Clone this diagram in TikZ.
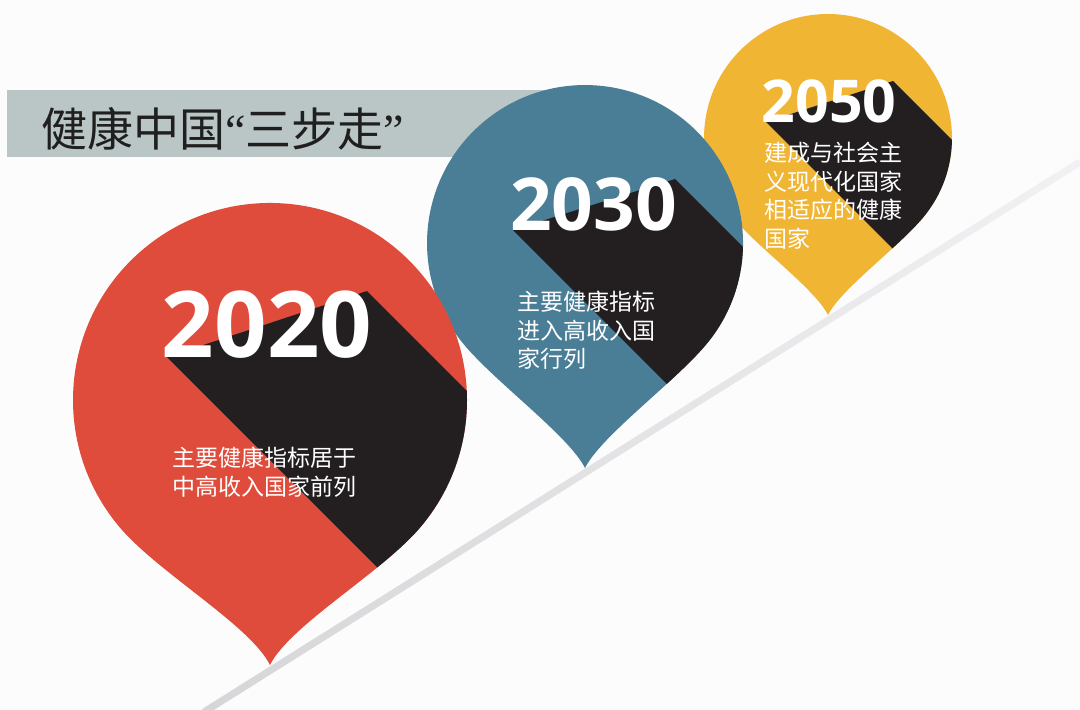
\documentclass[tikz,border=0pt]{standalone}
\usepackage{fontspec}
\setmainfont{Open Sans}
\newfontfamily\cjk{Noto Sans CJK SC}
\newfontfamily\yearfont{Open Sans}
\newfontfamily\quotefont{Liberation Serif}
\definecolor{PinRed}{HTML}{E04C3B}
\definecolor{PinBlue}{HTML}{4A7D96}
\definecolor{PinYellow}{HTML}{F1B534}
\definecolor{Shadow}{HTML}{231F20}
\definecolor{Banner}{HTML}{BAC5C5}
\definecolor{Track}{HTML}{D6D6D9}
\definecolor{Paper}{HTML}{FDFCFD}
\definecolor{Ink}{HTML}{1F1F1F}

\begin{document}
\begin{tikzpicture}[
  x=1pt,y=-1pt,
  year/.style={text=white,inner sep=0,anchor=base},
  band/.style={fill=Shadow},
  note/.style={text=white,inner sep=0,anchor=north west,align=left,font=\cjk\fontsize{23}{28.5}\selectfont},
  title/.style={text=Ink,inner sep=0,anchor=base west,font=\cjk\fontsize{46}{46}\selectfont}
]
\useasboundingbox (0,0) rectangle (1080,710);
\fill[Paper] (0,0) rectangle (1080,710);

% track under the pins
\coordinate (trackA) at (204,712);
\coordinate (trackB) at (1080,162);
\shade[left color=Track,right color=Track!30!Paper]
  (202.1,709) -- (1078.1,159) -- (1081.9,165) -- (205.9,715) -- cycle;

% banner
\fill[Banner] (7,90) rectangle (580,157);
\node[title] (heading) at (41,146) {健康中国{\quotefont “}三步走{\quotefont ”}};

% 2050
\begin{scope}
  \clip (828,315) .. controls (815,289) and (758.7,248.3) .. (733,217.7)
    arc[start angle=140,end angle=400,radius=124]
    .. controls (897.3,248.3) and (841,289) .. (828,315) -- cycle;
  \fill[PinYellow] (690,0) rectangle (970,330);
  \fill[band] (893,81) -- (1093,281) -- (966,322) -- (766,122) -- cycle;
\end{scope}
\node[year,font=\yearfont\bfseries\fontsize{59}{59}\selectfont] (y2050) at (829,122) {2050};
\node[note] (n2050) at (764,142) {建成与社会主\\义现代化国家\\相适应的健康\\国家};

% 2030
\begin{scope}
  \clip (585,468) .. controls (569,436) and (496.1,382.9) .. (464,344.6)
    arc[start angle=140,end angle=400,radius=158]
    .. controls (673.9,382.9) and (601,436) .. (585,468) -- cycle;
  \fill[PinBlue] (410,70) rectangle (760,480);
  \fill[band] (675,179) -- (925,429) -- (763,480) -- (513,230) -- cycle;
\end{scope}
\node[year,font=\yearfont\bfseries\fontsize{73}{73}\selectfont] (y2030) at (593.5,230) {2030};
\node[note] (n2030) at (517,291) {主要健康指标\\进入高收入国\\家行列};

% 2020
\begin{scope}
  \clip (270,665) .. controls (250,625) and (157.7,572.6) .. (119.1,526.6)
    arc[start angle=140,end angle=400,radius=197]
    .. controls (382.3,572.6) and (290,625) .. (270,665) -- cycle;
  \fill[PinRed] (60,190) rectangle (480,680);
  \fill[band] (367,291) -- (667,591) -- (467,657) -- (167,357) -- cycle;
\end{scope}
\node[year,font=\yearfont\bfseries\fontsize{92}{92}\selectfont] (y2020) at (267,357) {2020};
\node[note] (n2020) at (172,447) {主要健康指标居于\\中高收入国家前列};
\end{tikzpicture}
\end{document}
